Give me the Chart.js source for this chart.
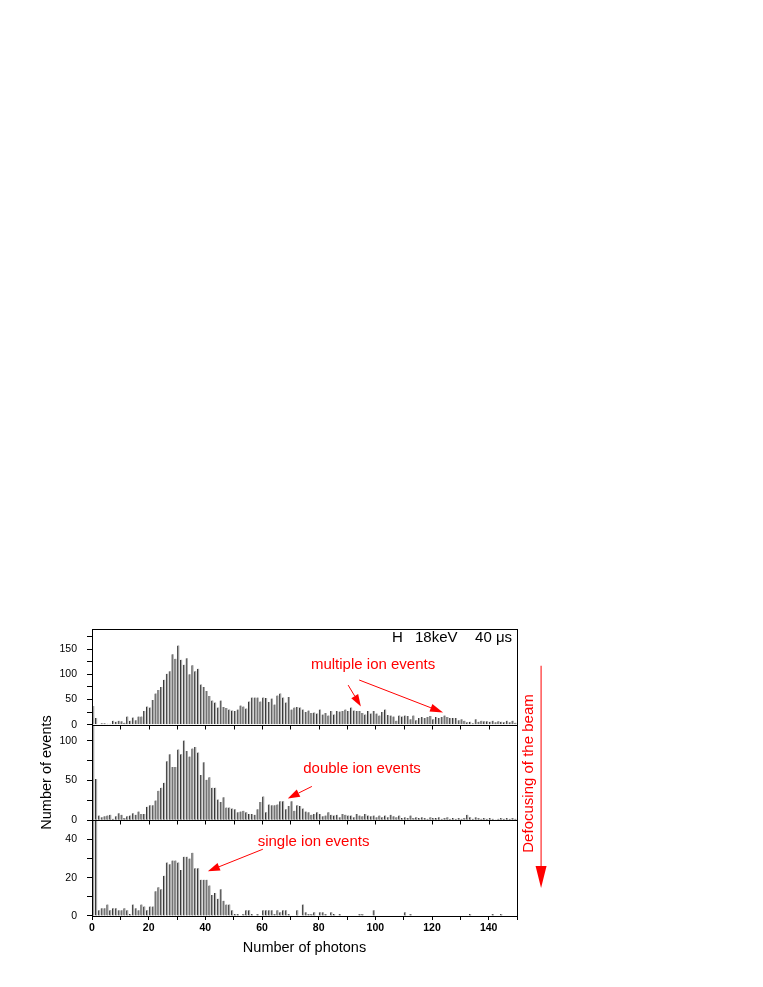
<!DOCTYPE html>
<html lang="en">
<head>
  <meta charset="UTF-8">
  <title>Photon number spectra, H 18keV</title>
  <script src="https://cdn.jsdelivr.net/npm/chart.js"></script>
  <style>
    html, body { margin: 0; padding: 0; background: #fff; }
    canvas { display: block; }
  </style>
</head>
<body>
  <canvas id="spectra" width="763" height="987"></canvas>

  <script>
    // counts per photon-number bin (bins 0..149), one array per panel
    const multipleCounts = [
      37, 13, 1, 3, 3, 2, 2, 8, 6, 8,
      7, 4, 16, 8, 14, 9, 16, 16, 27, 36,
      34, 49, 62, 69, 75, 89, 101, 106, 140, 131,
      157, 129, 119, 132, 100, 118, 106, 111, 80, 75,
      67, 57, 48, 44, 34, 48, 35, 33, 30, 28,
      27, 30, 38, 36, 32, 46, 54, 54, 54, 46,
      54, 53, 45, 52, 40, 58, 62, 54, 44, 55,
      30, 34, 35,
      34, 30, 25, 28, 23, 24, 22, 30, 20, 23,
      18, 27, 20, 27, 26, 27, 30, 27, 34, 28,
      27, 27, 23, 20, 27, 22, 27, 22, 18, 25,
      30, 19, 18, 16, 8, 18, 16, 18, 17, 11,
      18, 9, 13, 15, 13, 15, 17, 11, 15, 13,
      15, 18, 15, 13, 13, 13, 9, 11, 8, 5,
      6, 3, 11, 6, 8, 7, 7, 6, 8, 5,
      7, 6, 5, 8, 5, 8, 4
    ];
    const doubleCounts = [
      160, 52, 6, 4, 5, 6, 7, 2, 5, 9,
      7, 3, 5, 6, 9, 7, 11, 8, 8, 17,
      19, 19, 25, 37, 41, 47, 74, 83, 67, 67,
      89, 83, 100, 87, 80, 90, 92, 85, 57, 73,
      51, 54, 41, 41, 26, 23, 29, 16, 16, 15,
      14, 10, 11, 12, 10, 8, 8, 7, 14, 23,
      30, 10, 20, 19, 19, 20, 24, 24, 14, 18,
      24, 12, 19,
      18, 15, 11, 10, 7, 8, 10, 8, 5, 6,
      10, 7, 6, 7, 4, 8, 7, 6, 6, 4,
      8, 6, 5, 8, 6, 5, 6, 4, 6, 4,
      6, 4, 7, 5, 4, 6, 3, 4, 3, 6,
      3, 4, 3, 4, 3, 2, 4, 3, 3, 4,
      2, 3, 4, 2, 3, 2, 3, 2, 3, 7,
      4, 2, 4, 3, 2, 3, 2, 3, 2, 1,
      2, 3, 2, 3, 2, 3, 2
    ];
    const singleCounts = [
      160, 110, 3, 4, 4, 6, 3, 4, 4, 3,
      3, 4, 3, 1, 6, 4, 3, 6, 5, 3,
      5, 5, 13, 15, 14, 21, 28, 27, 29, 29,
      28, 24, 31, 31, 30, 33, 25, 25, 19, 19,
      19, 16, 11, 12, 9, 14, 8, 6, 6, 3,
      1, 1, 0, 1, 3, 3, 1, 0, 1, 0,
      3, 3, 3, 3, 1, 3, 2, 3, 3, 1,
      0, 0, 3,
      0, 6, 2, 1, 1, 2, 0, 2, 2, 1,
      0, 2, 1, 0, 1, 0, 0, 0, 0, 0,
      0, 1, 1, 0, 0, 0, 3, 0, 0, 0,
      0, 0, 0, 0, 0, 0, 0, 2, 0, 1,
      0, 0, 0, 0, 0, 0, 0, 0, 0, 0,
      0, 0, 0, 0, 0, 0, 0, 0, 0, 0,
      1, 0, 0, 0, 0, 0, 0, 0, 1, 0,
      0, 1, 0, 0, 0, 0, 0
    ];

    // tick labels
    const xTickLabels = [0, 20, 40, 60, 80, 100, 120, 140];
    const topTickLabels = [0, 50, 100, 150];
    const middleTickLabels = [0, 50, 100];
    const bottomTickLabels = [0, 20, 40];

    // each bar sits in the middle of its one-photon bin
    const binCenters = multipleCounts.map((_, i) => i + 0.5);
    const toPoints = counts => counts.map((c, i) => ({ x: binCenters[i], y: c }));

    const RED = '#ff0000';
    const FONT = "'Liberation Sans', Arial, sans-serif";
    Chart.defaults.font.family = FONT;
    Chart.defaults.color = '#000';

    // annotations, placed in data units of the given panel axis
    const noteTexts = [
      { text: 'H', x: 105.9, y: 172, axis: 'yTop', color: '#000', align: 'left' },
      { text: '18keV', x: 114.0, y: 172, axis: 'yTop', color: '#000', align: 'left' },
      { text: '40 μs', x: 135.2, y: 172, axis: 'yTop', color: '#000', align: 'left' },
      { text: 'multiple ion events', x: 99.2, y: 119, axis: 'yTop', color: RED, align: 'center' },
      { text: 'double ion events', x: 95.3, y: 65, axis: 'yMiddle', color: RED, align: 'center' },
      { text: 'single ion events', x: 78.2, y: 38.5, axis: 'yBottom', color: RED, align: 'center' }
    ];
    const noteArrows = [
      { from: [90.4, 78.6, 'yTop'], to: [94.9, 36.3, 'yTop'], head: 12, half: 4 },
      { from: [94.3, 88.7, 'yTop'], to: [123.9, 24.2, 'yTop'], head: 13, half: 4 },
      { from: [77.6, 42.5, 'yMiddle'], to: [69.1, 27.5, 'yMiddle'], head: 12, half: 4 },
      { from: [60.3, 34.9, 'yBottom'], to: [40.9, 23.4, 'yBottom'], head: 12, half: 4 },
      { from: [158.5, 117, 'yTop'], to: [158.5, 14.6, 'yBottom'], head: 22, half: 5.5 }
    ];
    const sideNote = { text: 'Defocusing of the beam', x: 154.1, y: 58.75, axis: 'yMiddle' };

    function drawArrow(ctx, x0, y0, x1, y1, len, half) {
      const a = Math.atan2(y1 - y0, x1 - x0);
      const bx = x1 - len * Math.cos(a), by = y1 - len * Math.sin(a);
      ctx.beginPath();
      ctx.moveTo(x0, y0);
      ctx.lineTo(bx, by);
      ctx.stroke();
      ctx.beginPath();
      ctx.moveTo(x1, y1);
      ctx.lineTo(bx + half * Math.sin(a), by - half * Math.cos(a));
      ctx.lineTo(bx - half * Math.sin(a), by + half * Math.cos(a));
      ctx.closePath();
      ctx.fill();
    }

    // keep each histogram inside its own panel
    const panelClip = {
      id: 'panelClip',
      beforeDatasetDraw(chart, args) {
        const s = chart.scales[args.meta.yAxisID];
        const { left, right } = chart.chartArea;
        chart.ctx.save();
        chart.ctx.beginPath();
        chart.ctx.rect(left, s.top, right - left, s.bottom - s.top);
        chart.ctx.clip();
      },
      afterDatasetDraw(chart) {
        chart.ctx.restore();
      }
    };

    // panel frames, the ticks under each panel and the notes
    const frameAndNotes = {
      id: 'frameAndNotes',
      afterDraw(chart) {
        const { ctx, chartArea, scales } = chart;
        const xs = scales.x;
        const px = v => xs.getPixelForValue(v);
        const py = (axis, v) => scales[axis].getPixelForValue(v);
        ctx.save();
        ctx.strokeStyle = '#000';
        ctx.lineWidth = 1;
        ['yTop', 'yMiddle', 'yBottom'].forEach(id => {
          const s = scales[id];
          const top = Math.round(s.top) + 0.5, bottom = Math.round(s.bottom) + 0.5;
          ctx.strokeRect(Math.round(chartArea.left) + 0.5, top, Math.round(chartArea.right - chartArea.left), bottom - top);
          if (id !== 'yBottom') {
            ctx.beginPath();
            for (let v = 10; v < 150; v += 10) {
              const x = Math.round(px(v)) + 0.5;
              ctx.moveTo(x, bottom);
              ctx.lineTo(x, bottom + 4);
            }
            ctx.stroke();
          }
        });

        ctx.font = '15px ' + FONT;
        ctx.textBaseline = 'middle';
        noteTexts.forEach(n => {
          ctx.fillStyle = n.color;
          ctx.textAlign = n.align;
          ctx.fillText(n.text, px(n.x), py(n.axis, n.y));
        });

        ctx.strokeStyle = RED;
        ctx.fillStyle = RED;
        noteArrows.forEach(a => {
          drawArrow(ctx, px(a.from[0]), py(a.from[2], a.from[1]),
            px(a.to[0]), py(a.to[2], a.to[1]), a.head, a.half);
        });

        ctx.save();
        ctx.translate(px(sideNote.x), py(sideNote.axis, sideNote.y));
        ctx.rotate(-Math.PI / 2);
        ctx.textAlign = 'center';
        ctx.fillText(sideNote.text, 0, 0);
        ctx.restore();
        ctx.restore();
      }
    };

    const barStyle = {
      type: 'bar',
      grouped: false,
      barThickness: 2,
      backgroundColor: '#a8a8a8',
      borderColor: '#2e2e2e',
      borderWidth: { left: 1, right: 0, top: 0, bottom: 0 },
      borderSkipped: false
    };

    function panelAxis(max, step, labels, extra) {
      return Object.assign({
        type: 'linear',
        position: 'left',
        stack: 'panels',
        stackWeight: 1,
        min: 0,
        max: max,
        grid: { drawOnChartArea: false, drawTicks: true, tickLength: 5, color: '#000' },
        border: { display: true, color: '#000' },
        ticks: {
          stepSize: step,
          includeBounds: false, // keep the last step tick instead of snapping it to max
          autoSkip: false,
          source: 'data',
          padding: 10,
          font: { size: 10.5 },
          callback: v => labels.includes(v) ? v : ''
        },
        afterBuildTicks: s => { s.ticks = s.ticks.filter(t => t.value % step === 0 && t.value < max); },
        afterFit: s => { s.width = 62; }
      }, extra || {});
    }

    new Chart(document.getElementById('spectra'), {
      data: {
        datasets: [
          Object.assign({ label: 'multiple', data: toPoints(multipleCounts), yAxisID: 'yTop' }, barStyle),
          Object.assign({ label: 'double', data: toPoints(doubleCounts), yAxisID: 'yMiddle' }, barStyle),
          Object.assign({ label: 'single', data: toPoints(singleCounts), yAxisID: 'yBottom' }, barStyle)
        ]
      },
      options: {
        responsive: false,
        animation: false,
        devicePixelRatio: 1,
        layout: { padding: { top: 629, left: 30, right: 246, bottom: 21 } },
        plugins: {
          legend: { display: false },
          tooltip: { enabled: false }
        },
        scales: {
          x: {
            type: 'linear',
            min: 0,
            max: 150,
            offset: false,
            grid: { offset: false, drawOnChartArea: false, drawTicks: true, tickLength: 4, color: '#000' },
            border: { display: true, color: '#000' },
            ticks: {
              stepSize: 10,
              autoSkip: false,
              source: 'data',
              maxRotation: 0,
              padding: 2,
              font: { size: 10.5, weight: 'bold' },
              callback: v => xTickLabels.includes(v) ? v : ''
            },
            title: {
              display: true,
              text: 'Number of photons',
              font: { size: 14.5 },
              padding: { top: 0, bottom: 9 }
            },
            afterFit: s => { s.height = 50; }
          },
          // stacked axes are placed top-down from the last one defined
          yBottom: panelAxis(50, 10, bottomTickLabels),
          yMiddle: panelAxis(120, 25, middleTickLabels, {
            title: {
              display: true,
              text: 'Number of events',
              font: { size: 14.5 },
              padding: { top: 8, bottom: 0 }
            }
          }),
          yTop: panelAxis(190, 25, topTickLabels)
        }
      },
      plugins: [panelClip, frameAndNotes]
    });
  </script>
</body>
</html>
